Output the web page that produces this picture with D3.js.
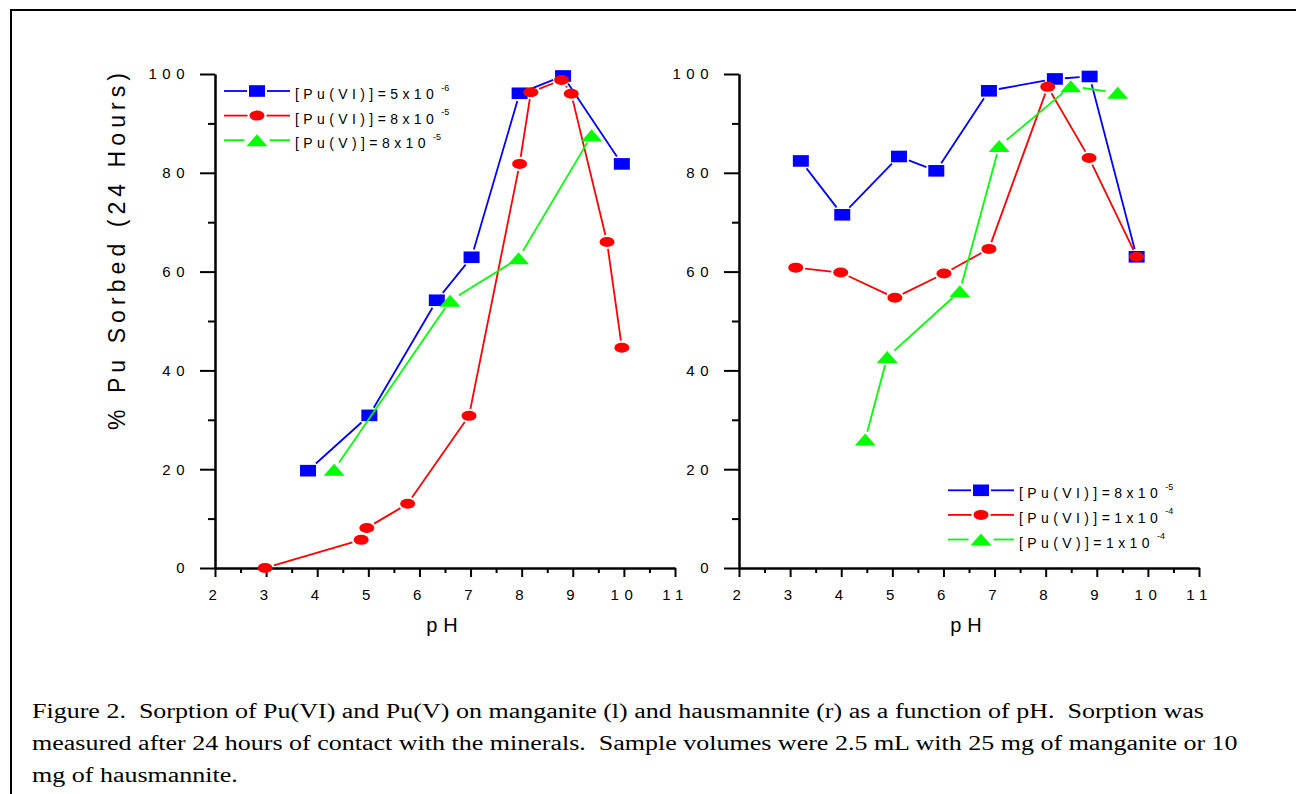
<!DOCTYPE html>
<html>
<head>
<meta charset="utf-8">
<script src="https://cdn.jsdelivr.net/npm/d3@7"></script>
<style>
  body { margin: 0; background: #fff; }
  svg { display: block; }
  text { font-family: Arial, "Liberation Sans", sans-serif; fill: #000; }
</style>
</head>
<body>
<svg id="chart"></svg>
<script>
const width = 1296;
const height = 794;

// values, [pH, % sorbed]
// left panel: manganite
const manganitePuVI_5e6 = [[3.82, 19.7], [5.02, 30.9], [6.34, 54.2], [7.02, 62.9], [7.96, 96.1], [8.81, 99.6], [9.96, 81.8]];
const manganitePuVI_8e5 = [[2.98, 0], [4.86, 5.7], [4.97, 8.1], [5.77, 13.0], [6.97, 30.8], [7.96, 81.8], [8.18, 96.3], [8.78, 98.8], [8.97, 96.0], [9.67, 66.0], [9.96, 44.6]];
const manganitePuV_8e5 = [[4.33, 19.9], [6.60, 54.1], [7.94, 62.7], [9.37, 87.6]];
// right panel: hausmannite
const hausmannitePuVI_8e5 = [[3.21, 82.4], [4.02, 71.5], [5.13, 83.3], [5.86, 80.4], [6.89, 96.6], [8.18, 99.0], [8.86, 99.5], [9.78, 63.0]];
const hausmannitePuVI_1e4 = [[3.11, 60.8], [3.99, 59.8], [5.05, 54.7], [6.01, 59.6], [6.89, 64.6], [8.04, 97.4], [8.85, 83.0], [9.78, 63.0]];
const hausmannitePuV_1e4 = [[4.47, 26.0], [4.90, 42.7], [6.32, 56.0], [7.09, 85.4], [8.49, 97.5], [9.41, 96.2]];

const leftLegendText = ['[Pu(VI)]=5x10', '[Pu(VI)]=8x10', '[Pu(V)]=8x10'];
const leftLegendExp = ['-6', '-5', '-5'];
const rightLegendText = ['[Pu(VI)]=8x10', '[Pu(VI)]=1x10', '[Pu(V)]=1x10'];
const rightLegendExp = ['-5', '-4', '-4'];

const phTicks = [2, 3, 4, 5, 6, 7, 8, 9, 10, 11];
const phMinorTicks = [2.5, 3.5, 4.5, 5.5, 6.5, 7.5, 8.5, 9.5, 10.5];
const pctTicks = [0, 20, 40, 60, 80, 100];
const pctMinorTicks = [10, 30, 50, 70, 90];

const yTitle = '% Pu Sorbed (24 Hours)';
const xTitle = 'pH';
const captionLines = [
  'Figure 2.  Sorption of Pu(VI) and Pu(V) on manganite (l) and hausmannite (r) as a function of pH.  Sorption was',
  'measured after 24 hours of contact with the minerals.  Sample volumes were 2.5 mL with 25 mg of manganite or 10',
  'mg of hausmannite.'
];

const blue = '#0000ff', red = '#ff0000', green = '#00ff00';

// marker shapes (half sizes)
const shapes = {
  square: { hw: 8, hh: 5.8 },
  circle: { hw: 7.5, hh: 5 },
  triangle: { hw: 10.5, hh: 6 }
};

const panels = [
  {
    x0: 215, x1: 675,
    series: [
      { data: manganitePuVI_5e6, color: blue, shape: 'square' },
      { data: manganitePuVI_8e5, color: red, shape: 'circle' },
      { data: manganitePuV_8e5, color: green, shape: 'triangle' }
    ],
    legend: { x: 224, y: 99, text: leftLegendText, exp: leftLegendExp }
  },
  {
    x0: 739, x1: 1199,
    series: [
      { data: hausmannitePuVI_8e5, color: blue, shape: 'square' },
      { data: hausmannitePuVI_1e4, color: red, shape: 'circle' },
      { data: hausmannitePuV_1e4, color: green, shape: 'triangle' }
    ],
    legend: { x: 948, y: 498.3, text: rightLegendText, exp: rightLegendExp }
  }
];

const svg = d3.select('#chart').attr('width', width).attr('height', height);

// page frame (top + left edge)
svg.append('path')
  .attr('d', `M11,${height} V10 H${width}`)
  .attr('fill', 'none')
  .attr('stroke', '#000')
  .attr('stroke-width', 2);

const y = d3.scaleLinear().domain([0, 100]).range([568, 74]);

function drawMarker(g, shape, color, cx, cy) {
  const s = shapes[shape];
  if (shape === 'square') {
    g.append('rect')
      .attr('x', cx - s.hw).attr('y', cy - s.hh)
      .attr('width', s.hw * 2).attr('height', s.hh * 2)
      .attr('fill', color);
  } else if (shape === 'circle') {
    g.append('ellipse')
      .attr('cx', cx).attr('cy', cy)
      .attr('rx', s.hw).attr('ry', s.hh)
      .attr('fill', color);
  } else {
    g.append('path')
      .attr('d', `M${cx},${cy - s.hh} L${cx + s.hw},${cy + s.hh} L${cx - s.hw},${cy + s.hh} Z`)
      .attr('fill', color);
  }
}

// distance from marker centre to its edge along a direction
function edgeDist(shape, ux, uy) {
  const s = shapes[shape];
  if (shape === 'square') {
    return Math.min(s.hw / Math.max(Math.abs(ux), 1e-6), s.hh / Math.max(Math.abs(uy), 1e-6));
  }
  return 1 / Math.sqrt((ux / s.hw) ** 2 + (uy / s.hh) ** 2);
}

const gap = 2;

panels.forEach(p => {
  const x = d3.scaleLinear().domain([2, 11]).range([p.x0, p.x1]);
  const g = svg.append('g');

  // axes
  g.append('g').attr('transform', `translate(0,${y(0)})`)
    .call(d3.axisBottom(x).tickValues(phTicks).tickSize(9).tickSizeOuter(0).tickPadding(12).tickFormat(d => d));
  g.append('g').attr('transform', `translate(0,${y(0)})`)
    .call(d3.axisBottom(x).tickValues(phMinorTicks).tickSize(5).tickSizeOuter(0).tickFormat(''));
  g.append('g').attr('transform', `translate(${p.x0},0)`)
    .call(d3.axisLeft(y).tickValues(pctTicks).tickSize(15).tickSizeOuter(0).tickPadding(10).tickFormat(d => d));
  g.append('g').attr('transform', `translate(${p.x0},0)`)
    .call(d3.axisLeft(y).tickValues(pctMinorTicks).tickSize(7).tickSizeOuter(0).tickFormat(''));

  g.selectAll('.domain, .tick line').attr('stroke', '#000').attr('stroke-width', 2);
  g.selectAll('.tick text')
    .attr('font-family', 'Arial, "Liberation Sans", sans-serif')
    .attr('font-size', 15)
    .attr('letter-spacing', 5.5)
    .attr('fill', '#111');

  // x title
  g.append('text')
    .attr('x', (p.x0 + p.x1) / 2)
    .attr('y', 632)
    .attr('text-anchor', 'middle')
    .attr('font-size', 20)
    .attr('letter-spacing', 6)
    .text(xTitle);

  // series
  p.series.forEach(s => {
    const pts = s.data.map(d => [x(d[0]), y(d[1])]);
    for (let i = 1; i < pts.length; i++) {
      const [ax, ay] = pts[i - 1], [bx, by] = pts[i];
      const dx = bx - ax, dy = by - ay;
      const len = Math.hypot(dx, dy);
      const ux = dx / len, uy = dy / len;
      const s1 = edgeDist(s.shape, ux, uy) + gap;
      const s2 = edgeDist(s.shape, ux, uy) + gap;
      if (s1 + s2 >= len) continue;
      g.append('line')
        .attr('x1', ax + ux * s1).attr('y1', ay + uy * s1)
        .attr('x2', bx - ux * s2).attr('y2', by - uy * s2)
        .attr('stroke', s.color)
        .attr('stroke-width', 1.8);
    }
    pts.forEach(pt => drawMarker(g, s.shape, s.color, pt[0], pt[1]));
  });

  // legend
  const lg = svg.append('g');
  p.series.forEach((s, i) => {
    const by = p.legend.y + i * 24.6;
    const my = by - 8;
    const lx = p.legend.x, mx = lx + 33;
    const hw = shapes[s.shape].hw;
    lg.append('line').attr('x1', lx).attr('x2', mx - hw - 2).attr('y1', my).attr('y2', my)
      .attr('stroke', s.color).attr('stroke-width', 1.8);
    lg.append('line').attr('x1', mx + hw + 2).attr('x2', lx + 66).attr('y1', my).attr('y2', my)
      .attr('stroke', s.color).attr('stroke-width', 1.8);
    drawMarker(lg, s.shape, s.color, mx, my);
    const tx = lx + 71;
    const t = lg.append('text')
      .attr('x', tx).attr('y', by)
      .attr('font-size', 14)
      .attr('letter-spacing', 4.4)
      .attr('fill', '#111')
      .text(p.legend.text[i]);
    const tl = t.node().getComputedTextLength();
    lg.append('text')
      .attr('x', tx + tl + 3).attr('y', by - 8.5)
      .attr('font-size', 9)
      .attr('fill', '#111')
      .text(p.legend.exp[i]);
  });
});

// y title (left panel only)
svg.append('text')
  .attr('transform', 'translate(125,251.5) rotate(-90)')
  .attr('text-anchor', 'middle')
  .attr('font-size', 23)
  .attr('textLength', 357)
  .attr('lengthAdjust', 'spacing')
  .text(yTitle);

// caption, the figure is stretched horizontally so scale the serif text to fit
const cap = svg.append('g');
const capText = cap.selectAll('text')
  .data(captionLines)
  .enter()
  .append('text')
  .attr('x', 0)
  .attr('y', (d, i) => 718.5 + i * 31.6)
  .attr('font-size', 20)
  .style('white-space', 'pre')
  .style('font-family', '"Liberation Serif", "Times New Roman", serif')
  .text(d => d);
const firstLen = capText.node().getComputedTextLength();
const sx = 1173 / firstLen;
cap.attr('transform', `translate(32,0) scale(${sx},1)`);
</script>
</body>
</html>
